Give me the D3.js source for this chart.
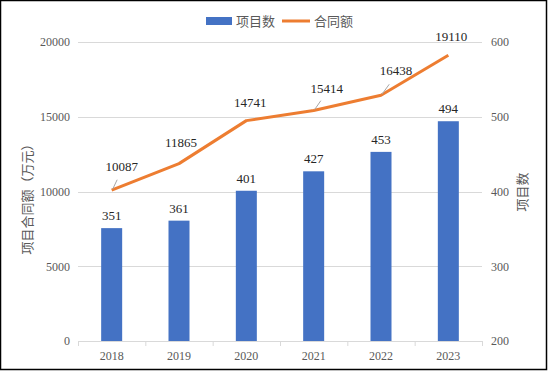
<!DOCTYPE html>
<meta charset="utf-8">
<body style="margin:0;background:#fff;">
<svg width="549" height="371"></svg>
<script src="https://cdn.jsdelivr.net/npm/d3@7"></script>
<script>
    // 数据
    const years = ["2018", "2019", "2020", "2021", "2022", "2023"];
    const projectCount = [351, 361, 401, 427, 453, 494];        // 项目数 (右轴)
    const contractAmount = [10087, 11865, 14741, 15414, 16438, 19110]; // 合同额 (左轴)
    const leftTicks = [0, 5000, 10000, 15000, 20000];
    const rightTicks = [200, 300, 400, 500, 600];
    // label offsets for line labels (dx, dy from point)
    const lineLabelOffset = [[10, -19], [2, -17], [4, -14], [13, -18], [15, -20], [3, -14]];

    const svg = d3.select("svg");
    const m = { left: 78, right: 482, top: 42, bottom: 341 };
    const numFont = '"Liberation Serif", "Times New Roman", serif';
    const cjkFont = '"Noto Sans CJK SC", sans-serif';

    svg.append("rect").attr("x", 0.5).attr("y", 0.5).attr("width", 546).attr("height", 369)
        .attr("fill", "#fff").attr("stroke", "#000").attr("stroke-width", 1.5);

    let x = d3.scaleBand().domain(years).range([m.left, m.right]).paddingInner(0).paddingOuter(0);
    let yL = d3.scaleLinear().domain([0, 20000]).range([m.bottom, m.top]);
    let yR = d3.scaleLinear().domain([200, 600]).range([m.bottom, m.top]);

    // grid
    svg.append("g").selectAll("line").data(leftTicks.slice(1)).join("line")
        .attr("x1", m.left).attr("x2", m.right)
        .attr("y1", d => Math.round(yL(d)) + 0.5).attr("y2", d => Math.round(yL(d)) + 0.5)
        .attr("stroke", "#d9d9d9").attr("stroke-width", 1);

    // left axis
    let gl = svg.append("g").attr("transform", `translate(${m.left - 8},0)`)
        .call(d3.axisLeft(yL).tickValues(leftTicks).tickFormat(d3.format("d")).tickSize(0).tickPadding(0));
    gl.select(".domain").remove();
    gl.selectAll("text").attr("font-family", numFont).attr("font-size", 12).attr("fill", "#595959");

    // right axis
    let gr = svg.append("g").attr("transform", `translate(${m.right + 9},0)`)
        .call(d3.axisRight(yR).tickValues(rightTicks).tickFormat(d3.format("d")).tickSize(0).tickPadding(0));
    gr.select(".domain").remove();
    gr.selectAll("text").attr("font-family", numFont).attr("font-size", 12).attr("fill", "#595959");

    // bars
    const bw = 21;
    svg.append("g").selectAll("rect").data(projectCount).join("rect")
        .attr("x", (d, i) => x(years[i]) + x.bandwidth() / 2 - bw / 2)
        .attr("y", d => yR(d))
        .attr("width", bw)
        .attr("height", d => yR(200) - yR(d))
        .attr("fill", "#4472C4");

    // bottom axis
    let gb = svg.append("g").attr("transform", `translate(0,${m.bottom})`)
        .call(d3.axisBottom(x).tickSize(0).tickPadding(10));
    gb.select(".domain").attr("stroke", "#d9d9d9");
    gb.selectAll("text").attr("font-family", numFont).attr("font-size", 12).attr("fill", "#595959");
    gb.selectAll(".sep").data(d3.range(years.length + 1)).join("line")
        .attr("x1", i => m.left + i * x.bandwidth() + 0.5).attr("x2", i => m.left + i * x.bandwidth() + 0.5)
        .attr("y1", 0).attr("y2", 5).attr("stroke", "#d9d9d9");

    // bar labels
    svg.append("g").selectAll("text").data(projectCount).join("text")
        .attr("x", (d, i) => x(years[i]) + x.bandwidth() / 2)
        .attr("y", d => yR(d) - 8)
        .attr("text-anchor", "middle")
        .attr("font-family", numFont).attr("font-size", 13).attr("fill", "#262626")
        .text(d => d);

    // line
    let line = d3.line()
        .x((d, i) => x(years[i]) + x.bandwidth() / 2)
        .y(d => yL(d));
    svg.append("path").datum(contractAmount)
        .attr("d", line).attr("fill", "none")
        .attr("stroke", "#ED7D31").attr("stroke-width", 3).attr("stroke-linejoin", "round");

    // leader lines + labels
    let lg = svg.append("g");
    contractAmount.forEach((d, i) => {
        let px = x(years[i]) + x.bandwidth() / 2, py = yL(d);
        let [dx, dy] = lineLabelOffset[i];
        if (Math.abs(dx) > 6) {
            lg.append("line")
                .attr("x1", px + 1).attr("y1", py - 1)
                .attr("x2", px + dx * 0.55).attr("y2", py + dy * 0.55)
                .attr("stroke", "#a6a6a6").attr("stroke-width", 1);
        }
        lg.append("text")
            .attr("x", px + dx).attr("y", py + dy)
            .attr("text-anchor", "middle")
            .attr("font-family", numFont).attr("font-size", 13).attr("fill", "#262626")
            .text(d);
    });

    // axis titles
    svg.append("text")
        .attr("transform", "translate(32,196) rotate(-90)")
        .attr("text-anchor", "middle")
        .attr("font-family", cjkFont).attr("font-size", 13).attr("fill", "#595959")
        .text("项目合同额（万元）");
    svg.append("text")
        .attr("transform", "translate(527,192) rotate(-90)")
        .attr("text-anchor", "middle")
        .attr("font-family", cjkFont).attr("font-size", 13).attr("fill", "#595959")
        .text("项目数");

    // legend
    let leg = svg.append("g");
    leg.append("rect").attr("x", 206).attr("y", 17).attr("width", 26).attr("height", 8).attr("fill", "#4472C4");
    leg.append("text").attr("x", 236).attr("y", 26)
        .attr("font-family", cjkFont).attr("font-size", 13).attr("fill", "#595959").text("项目数");
    leg.append("line").attr("x1", 282).attr("x2", 310).attr("y1", 21).attr("y2", 21)
        .attr("stroke", "#ED7D31").attr("stroke-width", 3);
    leg.append("text").attr("x", 314).attr("y", 26)
        .attr("font-family", cjkFont).attr("font-size", 13).attr("fill", "#595959").text("合同额");
</script>
</body>
